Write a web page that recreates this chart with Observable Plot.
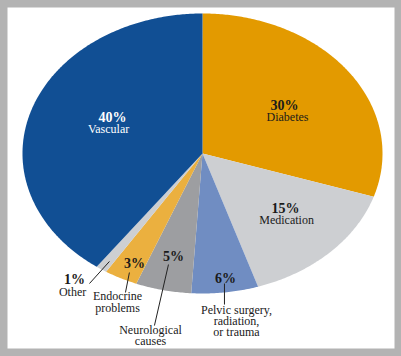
<!DOCTYPE html>
<html>
<head>
<meta charset="utf-8">
<script src="https://cdn.jsdelivr.net/npm/d3@7"></script>
<script src="https://cdn.jsdelivr.net/npm/@observablehq/plot@0.6"></script>
<style>
  html, body { margin: 0; padding: 0; background: #b3b3b3; }
  #chart svg { display: block; }
</style>
</head>
<body>
<div id="chart"></div>
<script>
// ---- data ----
const categories = ["Diabetes", "Medication", "Pelvic", "Neurological", "Endocrine", "Other", "Vascular"];
const shares = [30, 15, 6, 5, 3, 1, 40];
const pctLabels = ["30%", "15%", "6%", "5%", "3%", "1%", "40%"];
const nameLabels = ["Diabetes", "Medication", "Pelvic surgery,\nradiation,\nor trauma", "Neurological\ncauses", "Endocrine\nproblems", "Other", "Vascular"];
const sliceColors = ["#e39a00", "#cdcfd2", "#708dc2", "#9d9ea1", "#ebb03f", "#cdcfd2", "#114f94"];

// ---- layout (unit-ellipse coordinates) ----
const pctPos = [[0.456, 0.343], [0.461, -0.393], [0.128, -0.893], [-0.161, -0.736], [-0.378, -0.786], [-0.711, -0.9], [-0.5, 0.257]];
const namePos = [[0.472, 0.257], [0.467, -0.479], [0.189, -1.2], [-0.289, -1.3], [-0.472, -1.064], [-0.722, -0.993], [-0.522, 0.171]];
const leaders = [
  {key: "Other", x1: -0.517, y1: -0.771, x2: -0.628, y2: -0.929},
  {key: "Endocrine", x1: -0.406, y1: -0.85, x2: -0.428, y2: -0.993},
  {key: "Neurological", x1: -0.189, y1: -0.793, x2: -0.267, y2: -1.229},
  {key: "Pelvic", x1: 0.122, y1: -0.929, x2: 0.122, y2: -1.079}
];

// slice polygons from the shares (angles clockwise from 12 o'clock)
const pie = d3.pie().sort(null).value(d => d.v)(categories.map((k, i) => ({k, v: shares[i]})));
const slicePts = [];
for (const a of pie) {
  const key = a.data.k;
  slicePts.push({key, x: 0, y: 0});
  const n = Math.max(4, Math.ceil((a.endAngle - a.startAngle) / 0.01));
  for (let j = 0; j <= n; j++) {
    const t = a.startAngle + (a.endAngle - a.startAngle) * j / n;
    slicePts.push({key, x: Math.sin(t), y: Math.cos(t)});
  }
}

const labels = categories.map((k, i) => ({
  key: k, pct: pctLabels[i], name: nameLabels[i],
  px: pctPos[i][0], py: pctPos[i][1], nx: namePos[i][0], ny: namePos[i][1],
  light: k === "Vascular"
}));

const font = "'Liberation Serif', 'DejaVu Serif', serif";

const chart = Plot.plot({
  width: 401,
  height: 356,
  marginLeft: 7, marginTop: 7, marginRight: 7, marginBottom: 8,
  style: {background: "#b3b3b3", fontFamily: font},
  x: {domain: [-1, 1], range: [22, 382], axis: null},
  y: {domain: [-1, 1], range: [293, 13], axis: null},
  color: {domain: categories, range: sliceColors},
  marks: [
    Plot.frame({fill: "white", stroke: "none"}),
    Plot.line(slicePts, {x: "x", y: "y", z: "key", fill: "key", stroke: "none", curve: "linear-closed"}),
    Plot.link(leaders, {x1: "x1", y1: "y1", x2: "x2", y2: "y2", stroke: "#222", strokeWidth: 1}),
    Plot.text(labels, {x: "px", y: "py", text: "pct", fill: d => d.light ? "white" : "#1a1a1a",
      fontSize: 14, fontWeight: "bold", fontFamily: font}),
    Plot.text(labels, {x: "nx", y: "ny", text: "name", fill: d => d.light ? "white" : "#1a1a1a",
      fontSize: 12, lineHeight: 0.92, fontFamily: font})
  ]
});
document.getElementById("chart").appendChild(chart);
</script>
</body>
</html>
